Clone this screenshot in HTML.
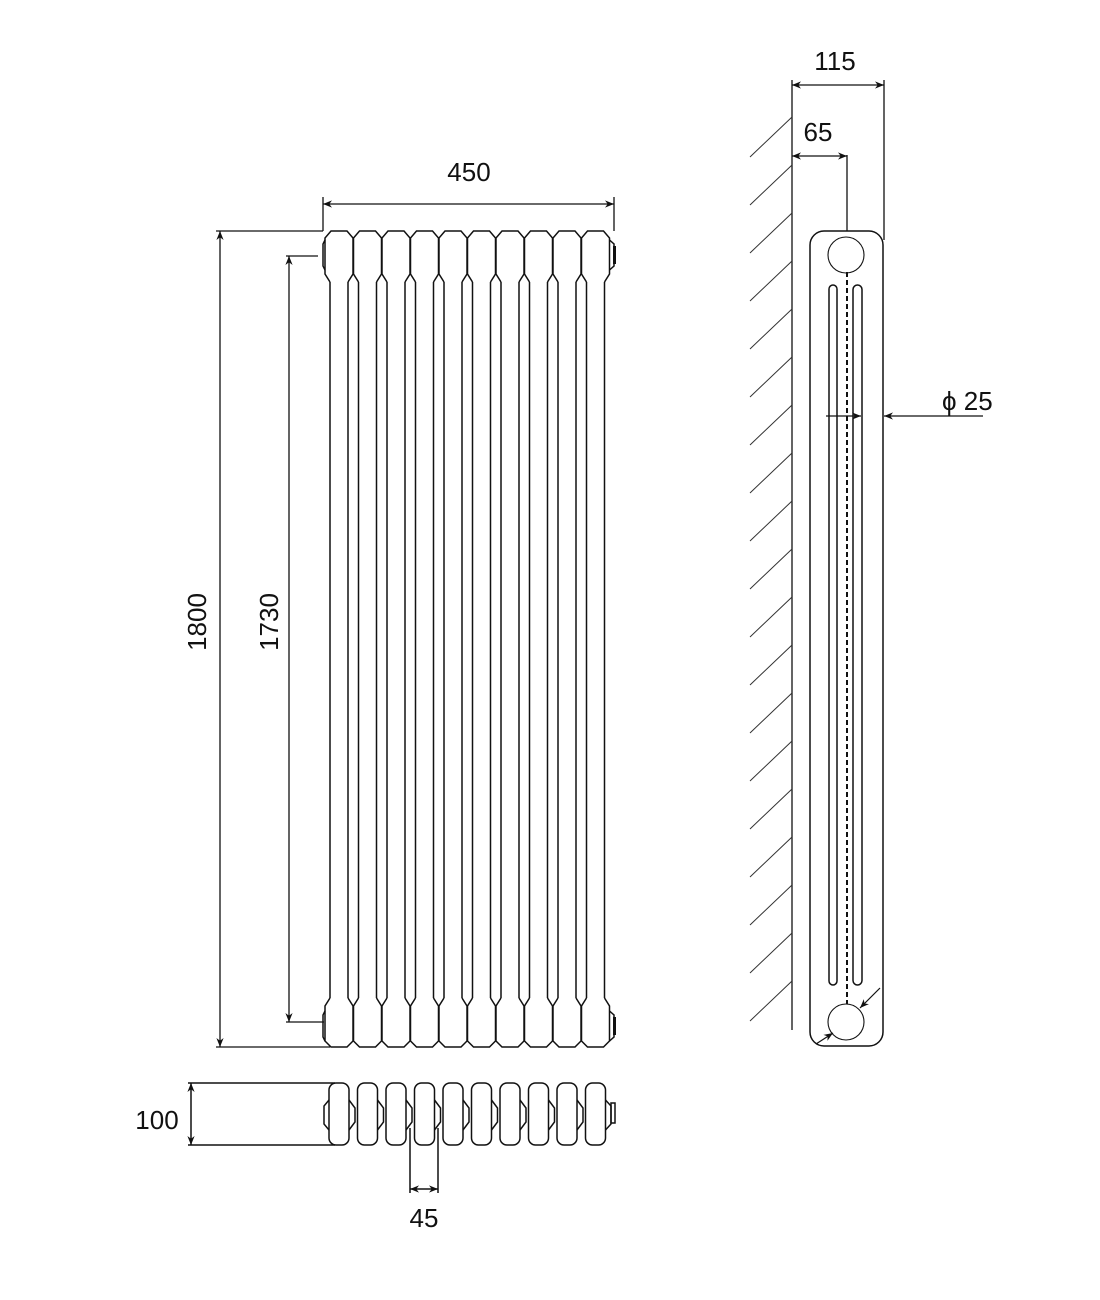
<!DOCTYPE html>
<html><head><meta charset="utf-8"><style>
html,body{margin:0;padding:0;background:#fff;}
svg{display:block}
text{font-family:"Liberation Sans",Arial,sans-serif;fill:#111;}
</style></head><body>
<svg width="1100" height="1300" viewBox="0 0 1100 1300" xmlns="http://www.w3.org/2000/svg">
<defs>
<marker id="ar" viewBox="0 0 10 10" refX="10" refY="5" markerWidth="9" markerHeight="9" orient="auto-start-reverse" markerUnits="userSpaceOnUse">
<path d="M0,1 L10,5 L0,9 L3,5 Z" fill="#111"/></marker>
<g id="col" fill="none" stroke="#111" stroke-width="1.5">
<path d="M-9,282 L-14,274 L-14,238 L-8,231 L8,231 L14,238 L14,274 L9,282"/>
<path d="M-9,998 L-14,1006 L-14,1041 L-8,1047 L8,1047 L14,1041 L14,1006 L9,998"/>
<line x1="-9" y1="282" x2="-9" y2="998"/>
<line x1="9" y1="282" x2="9" y2="998"/>
</g>
<g id="pc" fill="none" stroke="#111" stroke-width="1.5">
<rect x="-10" y="1083" width="20" height="62" rx="7"/>
<path d="M10,1100 L16,1108 L16,1122 L10,1130"/>
</g>
</defs>

<use href="#col" x="339"/><use href="#col" x="367.5"/><use href="#col" x="396"/><use href="#col" x="424.5"/><use href="#col" x="453"/>
<use href="#col" x="481.5"/><use href="#col" x="510"/><use href="#col" x="538.5"/><use href="#col" x="567"/><use href="#col" x="595.5"/>
<g fill="none" stroke="#111" stroke-width="1.5">
<path d="M325,240 L323,244 L323,266 L325,270"/>
<path d="M325,1011 L323,1015 L323,1037 L325,1041"/>
<path d="M609.5,240 L614,244 L614,266 L609.5,270"/>
<path d="M609.5,1011 L614,1015 L614,1037 L609.5,1041"/>
<line x1="614.5" y1="246" x2="614.5" y2="264" stroke-width="3"/>
<line x1="614.5" y1="1017" x2="614.5" y2="1035" stroke-width="3"/>
</g>

<g stroke="#111" stroke-width="1.3" fill="none">
<line x1="323" y1="197" x2="323" y2="231"/>
<line x1="614" y1="197" x2="614" y2="231"/>
<line x1="323" y1="204" x2="614" y2="204" marker-start="url(#ar)" marker-end="url(#ar)"/>
<line x1="216" y1="231" x2="323" y2="231"/>
<line x1="216" y1="1047" x2="330" y2="1047"/>
<line x1="220" y1="231" x2="220" y2="1047" marker-start="url(#ar)" marker-end="url(#ar)"/>
<line x1="286" y1="256" x2="318" y2="256"/>
<line x1="286" y1="1022" x2="324" y2="1022"/>
<line x1="289" y1="256" x2="289" y2="1022" marker-start="url(#ar)" marker-end="url(#ar)"/>
</g>
<text x="469" y="181" font-size="26" text-anchor="middle">450</text>
<text x="0" y="0" font-size="26" text-anchor="middle" transform="translate(206,622) rotate(-90)">1800</text>
<text x="0" y="0" font-size="26" text-anchor="middle" transform="translate(278,622) rotate(-90)">1730</text>

<use href="#pc" x="339"/><use href="#pc" x="367.5"/><use href="#pc" x="396"/><use href="#pc" x="424.5"/><use href="#pc" x="453"/>
<use href="#pc" x="481.5"/><use href="#pc" x="510"/><use href="#pc" x="538.5"/><use href="#pc" x="567"/>
<g fill="none" stroke="#111" stroke-width="1.5">
<rect x="585.5" y="1083" width="20" height="62" rx="7"/>
<path d="M329,1100 L324,1106 L324,1124 L329,1130"/>
<path d="M605.5,1100 L611,1106 L611,1124 L605.5,1130"/>
<rect x="611" y="1103" width="4" height="20"/>
<line x1="188" y1="1083" x2="335" y2="1083"/>
<line x1="188" y1="1145" x2="335" y2="1145"/>
<line x1="191" y1="1083" x2="191" y2="1145" marker-start="url(#ar)" marker-end="url(#ar)"/>
<line x1="410" y1="1128" x2="410" y2="1193"/>
<line x1="438" y1="1128" x2="438" y2="1193"/>
<line x1="410" y1="1189" x2="438" y2="1189" marker-start="url(#ar)" marker-end="url(#ar)"/>
</g>
<text x="157" y="1129" font-size="26" text-anchor="middle">100</text>
<text x="424" y="1227" font-size="26" text-anchor="middle">45</text>

<g stroke="#111" stroke-width="1.3" fill="none">
<line x1="792" y1="80" x2="792" y2="1030"/>
<line x1="884" y1="80" x2="884" y2="240"/>
<line x1="792" y1="85" x2="884" y2="85" marker-start="url(#ar)" marker-end="url(#ar)"/>
<line x1="847" y1="155" x2="847" y2="231"/>
<line x1="792" y1="156" x2="847" y2="156" marker-start="url(#ar)" marker-end="url(#ar)"/>
</g>
<g stroke="#333" stroke-width="1" fill="none">
<path d="M792,117 l-42,40 M792,165 l-42,40 M792,213 l-42,40 M792,261 l-42,40 M792,309 l-42,40 M792,357 l-42,40 M792,405 l-42,40 M792,453 l-42,40 M792,501 l-42,40 M792,549 l-42,40 M792,597 l-42,40 M792,645 l-42,40 M792,693 l-42,40 M792,741 l-42,40 M792,789 l-42,40 M792,837 l-42,40 M792,885 l-42,40 M792,933 l-42,40 M792,981 l-42,40"/>
</g>
<g stroke="#111" stroke-width="1.5" fill="none">
<rect x="810" y="231" width="73" height="815" rx="14"/>
<circle cx="846" cy="255" r="18" stroke-width="1.1"/>
<circle cx="846" cy="1022" r="18" stroke-width="1.1"/>
<rect x="829" y="285" width="8" height="700" rx="4"/>
<rect x="853" y="285" width="9" height="700" rx="4.5"/>
<line x1="847" y1="272" x2="847" y2="1004" stroke-dasharray="5,3" stroke-width="2"/>
</g>
<g stroke="#111" stroke-width="1.2" fill="none">
<line x1="826" y1="416" x2="861" y2="416" marker-end="url(#ar)"/>
<line x1="983" y1="416" x2="884" y2="416" marker-end="url(#ar)"/>
<line x1="880" y1="988" x2="860" y2="1008" marker-end="url(#ar)"/>
<line x1="816" y1="1044" x2="833" y2="1033" marker-end="url(#ar)"/>
</g>
<text x="835" y="70" font-size="26" text-anchor="middle">115</text>
<text x="818" y="141" font-size="26" text-anchor="middle">65</text>
<text x="942" y="410" font-size="26">ϕ 25</text>
</svg>
</body></html>
